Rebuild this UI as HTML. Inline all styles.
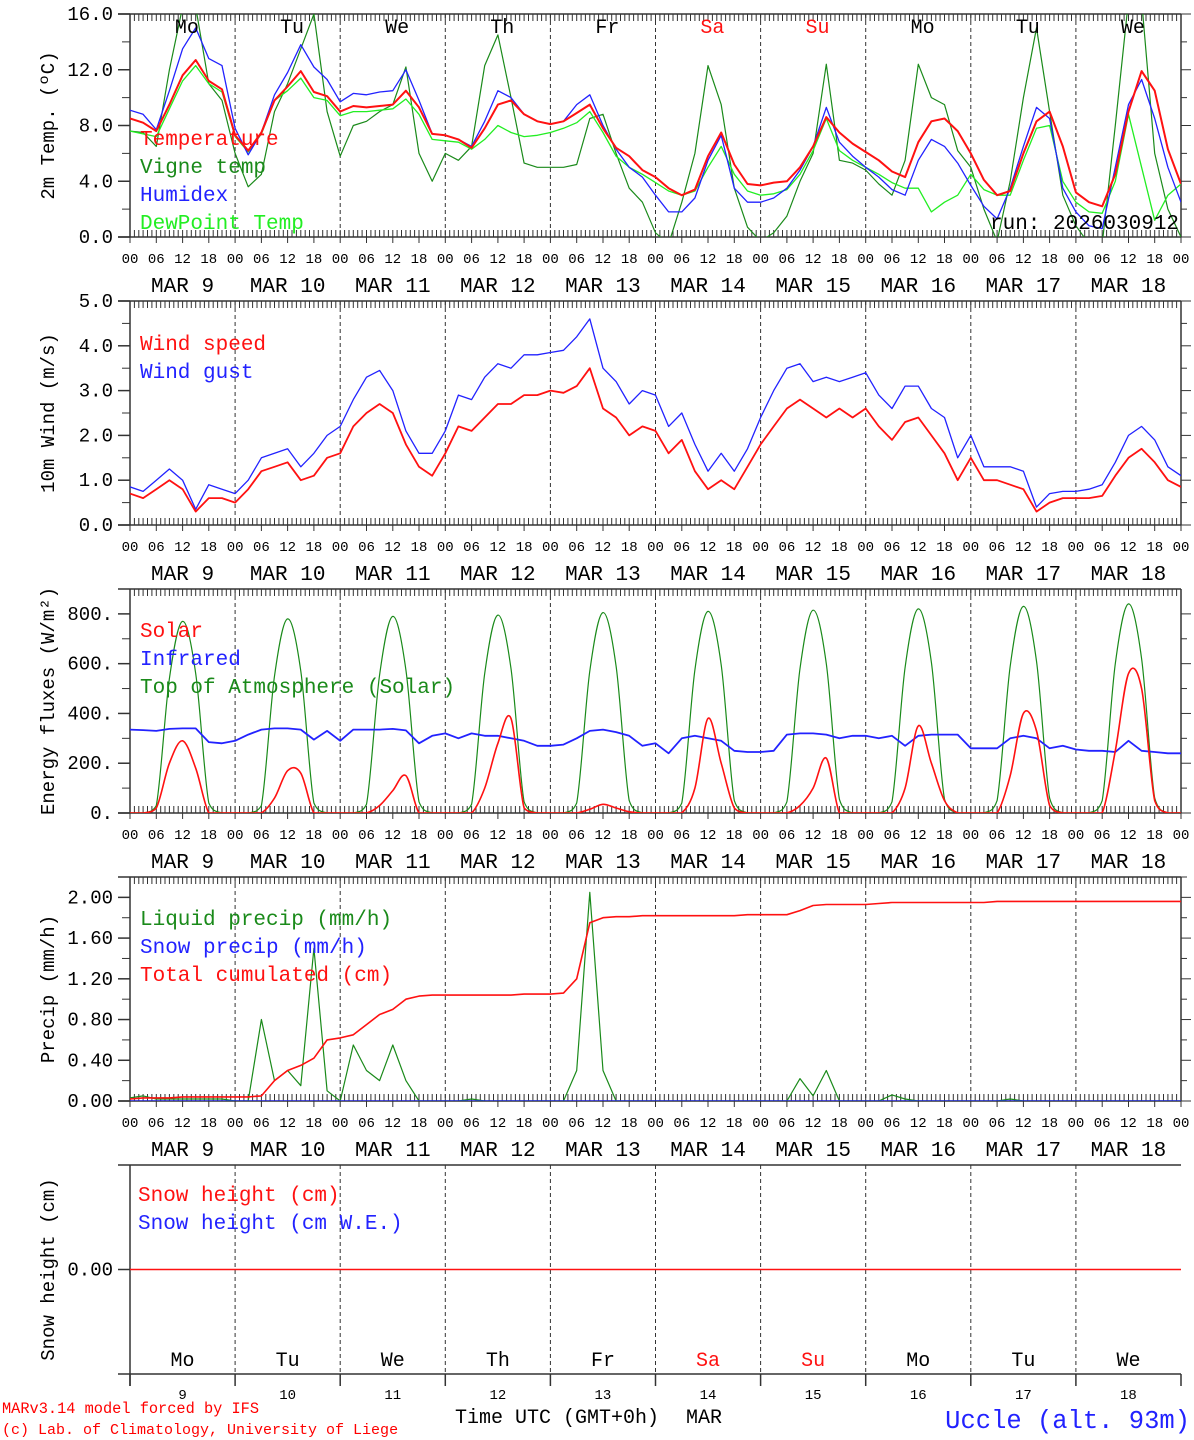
<!DOCTYPE html>
<html><head><meta charset="utf-8"><style>
html,body{margin:0;padding:0;background:#fff;}
svg{display:block;font-family:"Liberation Mono",monospace;}
</style></head><body>
<svg id="chart" width="1194" height="1440" viewBox="0 0 1194 1440" xmlns="http://www.w3.org/2000/svg">
<defs id="defs"></defs>
<g id="frames"></g>
<g id="series"></g>
<g id="labels"></g>
<text x="2" y="1413" font-size="15.3" fill="#f00">MARv3.14 model forced by IFS</text>
<text x="2" y="1434" font-size="15" fill="#f00">(c) Lab. of Climatology, University of Liege</text>
<text x="455" y="1423" font-size="20" fill="#000">Time UTC (GMT+0h)</text>
<text x="686" y="1423" font-size="20" fill="#000">MAR</text>
<text x="1190" y="1428" font-size="25.5" fill="#22f" text-anchor="end">Uccle (alt. 93m)</text>
</svg>
<script>
// ---- data (3-hourly, 00 UTC MAR 9 .. 00 UTC MAR 19) ----
const dayNames = ["Mo","Tu","We","Th","Fr","Sa","Su","Mo","Tu","We"];
const dayDates = ["9","10","11","12","13","14","15","16","17","18"];
const temperature = [8.5,8.2,7.6,9.5,11.6,12.7,11.2,10.6, 7.3,6.2,7.5,9.8,10.8,11.9,10.4,10.1, 9.0,9.4,9.3,9.4,9.5,10.5,9.3,7.4, 7.3,7.0,6.4,7.8,9.5,9.8,8.8,8.3, 8.1,8.3,8.9,9.5,7.8,6.4,5.8,4.8, 4.3,3.5,3.0,3.4,5.8,7.5,5.2,3.8, 3.7,3.9,4.0,5.0,6.5,8.6,7.5,6.7, 6.1,5.5,4.7,4.3,6.8,8.3,8.5,7.6, 6.0,4.1,3.0,3.3,6.0,8.3,9.0,6.5, 3.2,2.5,2.2,4.5,9.0,11.9,10.5,6.3,3.8];
const vigneTemp = [7.6,7.5,6.5,12,16.5,16.5,11,9.8, 6.0,3.6,4.5,9,11,13.5,16,9, 5.8,8,8.3,9,9.5,12.2,6,4, 6.0,5.5,6.5,12.3,14.5,10,5.3,5, 5,5,5.2,8.5,8.8,6,3.5,2.5, 0.3,-0.5,2.5,6,12.3,9.5,3.5,0.7, -0.3,0.3,1.5,4,6.0,12.4,5.5,5.3, 4.8,3.8,3.0,5.5,12.4,10,9.5,6.2, 5.0,2.0,-0.3,4.0,10,15,9,3, 0.8,-0.5,-0.5,8,17,17,6,2,0];
const humidex = [9.1,8.8,7.7,10.5,13.5,15.0,12.8,12.3, 7.8,5.9,7.5,10.2,11.8,13.8,12.2,11.3, 9.7,10.3,10.2,10.4,10.5,12.0,9.8,7.4, 7.3,7.0,6.5,8.3,10.5,10.0,8.8,8.3, 8.1,8.3,9.5,10.2,8.0,6.3,5.0,4.3, 3.0,1.8,1.8,2.8,5.5,7.3,3.5,2.5, 2.5,2.8,3.5,4.8,6.5,9.3,6.8,5.8, 5.0,4.3,3.4,3.0,5.5,7.0,6.5,5.3, 3.7,2.2,1.3,3.5,6.5,9.3,8.5,3.5, 1.8,0.8,0.6,5.0,9.5,11.3,8.5,5.0,2.5];
const dewPoint = [7.6,7.4,7.2,9.2,11.2,12.3,11.0,10.4, 7.2,6.1,7.4,9.8,10.5,11.4,10.0,9.8, 8.7,9.0,9.0,9.1,9.2,9.9,8.8,7.0, 6.9,6.8,6.3,7.0,8.0,7.5,7.2,7.3, 7.5,7.8,8.2,9.0,7.5,5.8,5.0,4.5, 3.9,3.3,3.0,3.3,5.0,6.5,4.5,3.3, 3.0,3.1,3.4,4.5,6.2,8.5,6.2,5.5, 5.0,4.5,3.9,3.5,3.5,1.8,2.5,3.0, 4.5,3.4,3.0,3.0,5.5,7.8,8.0,4.0, 2.5,1.8,1.7,4.0,8.8,5.0,1.2,3.0,3.8];
const windSpeed = [0.7,0.6,0.8,1.0,0.8,0.3,0.6,0.6, 0.5,0.8,1.2,1.3,1.4,1.0,1.1,1.5, 1.6,2.2,2.5,2.7,2.5,1.8,1.3,1.1, 1.6,2.2,2.1,2.4,2.7,2.7,2.9,2.9, 3.0,2.95,3.1,3.5,2.6,2.4,2.0,2.2, 2.1,1.6,1.9,1.2,0.8,1.0,0.8,1.3, 1.8,2.2,2.6,2.8,2.6,2.4,2.6,2.4, 2.6,2.2,1.9,2.3,2.4,2.0,1.6,1.0, 1.5,1.0,1.0,0.9,0.8,0.3,0.5,0.6, 0.6,0.6,0.65,1.1,1.5,1.7,1.4,1.0,0.85];
const windGust = [0.85,0.75,1.0,1.25,1.0,0.35,0.9,0.8, 0.7,1.0,1.5,1.6,1.7,1.3,1.6,2.0, 2.2,2.8,3.3,3.45,3.0,2.1,1.6,1.6, 2.1,2.9,2.8,3.3,3.6,3.5,3.8,3.8, 3.85,3.9,4.2,4.6,3.5,3.2,2.7,3.0, 2.9,2.2,2.5,1.8,1.2,1.6,1.2,1.7, 2.4,3.0,3.5,3.6,3.2,3.3,3.2,3.3, 3.4,2.9,2.6,3.1,3.1,2.6,2.4,1.5, 2.0,1.3,1.3,1.3,1.2,0.4,0.7,0.75, 0.75,0.8,0.9,1.4,2.0,2.2,1.9,1.3,1.1];
const solar = [0,0,20,200,290,180,0,0, 0,0,0,60,170,160,0,0, 0,0,0,30,90,150,0,0, 0,0,0,100,280,380,20,0, 0,0,0,15,35,20,5,0, 0,0,0,100,380,200,20,0, 0,0,0,30,100,220,0,0, 0,0,0,100,350,200,50,0, 0,0,0,150,400,330,30,0, 0,0,0,250,560,500,50,0,0];
const infrared = [335,333,330,338,340,340,285,280, 290,315,335,340,340,335,295,330, 290,335,335,335,338,332,280,310, 320,300,320,310,310,300,290,270, 270,275,300,330,335,325,310,270, 280,240,300,310,300,290,250,245, 245,250,315,320,320,315,300,310, 310,300,310,270,310,315,315,315, 260,260,260,300,310,300,260,270, 255,250,250,245,290,250,245,240,240];
const toaSolar = [0,0,30,540,770,560,40,0, 0,0,30,550,780,570,40,0, 0,0,35,555,790,575,45,0, 0,0,35,560,795,580,45,0, 0,0,40,570,805,590,50,0, 0,0,40,575,810,595,50,0, 0,0,45,580,815,600,55,0, 0,0,45,585,820,605,55,0, 0,0,50,590,830,610,60,0, 0,0,50,600,840,620,60,0,0];
const liquidPrecip = [0.03,0.05,0.02,0.02,0.02,0.02,0.02,0.02, 0,0,0.8,0.2,0.3,0.15,1.5,0.1, 0,0.55,0.3,0.2,0.55,0.2,0,0, 0,0,0.02,0,0,0,0,0, 0,0,0.3,2.05,0.3,0,0,0, 0,0,0,0,0,0,0,0, 0,0,0,0.22,0.05,0.3,0,0, 0,0,0.06,0.02,0,0,0,0, 0,0,0,0.02,0,0,0,0, 0,0,0,0,0,0,0,0,0];
const snowPrecip = new Array(81).fill(0);
const totalCumul = [0.02,0.03,0.03,0.03,0.04,0.04,0.04,0.04, 0.04,0.04,0.05,0.2,0.3,0.35,0.42,0.6, 0.62,0.65,0.75,0.85,0.9,1.0,1.03,1.04, 1.04,1.04,1.04,1.04,1.04,1.04,1.05,1.05, 1.05,1.06,1.2,1.75,1.8,1.81,1.81,1.82, 1.82,1.82,1.82,1.82,1.82,1.82,1.82,1.83, 1.83,1.83,1.83,1.87,1.92,1.93,1.93,1.93, 1.93,1.94,1.95,1.95,1.95,1.95,1.95,1.95, 1.95,1.95,1.96,1.96,1.96,1.96,1.96,1.96, 1.96,1.96,1.96,1.96,1.96,1.96,1.96,1.96,1.96];
const snowHeight = new Array(81).fill(0);
const yTicks1 = ["0.0","4.0","8.0","12.0","16.0"];
const yTicks2 = ["0.0","1.0","2.0","3.0","4.0","5.0"];
const yTicks3 = ["0.","200.","400.","600.","800."];
const yTicks4 = ["0.00","0.40","0.80","1.20","1.60","2.00"];
const hourLabels = ["00","06","12","18"];

// ---- layout ----
const NS = "http://www.w3.org/2000/svg";
const X0 = 130, X1 = 1181, HOURS = 240;
function xs(h){ return X0 + h*(X1-X0)/HOURS; }
function mk(tag, attrs, parent){ const e=document.createElementNS(NS,tag); for(const k in attrs) e.setAttribute(k,attrs[k]); parent.appendChild(e); return e; }
const frames=document.getElementById('frames'), series=document.getElementById('series'), labels=document.getElementById('labels'), defs=document.getElementById('defs');

const panels = [
 {top:14,bot:237,min:0,max:16,ticks:yTicks1,step:4,minor:2,title:"2m Temp. (\u00BAC)",name:"temperature-panel"},
 {top:301,bot:525,min:0,max:5,ticks:yTicks2,step:1,minor:0.5,title:"10m Wind (m/s)",name:"wind-panel"},
 {top:589,bot:813,min:0,max:900,ticks:yTicks3,step:200,minor:100,title:"Energy fluxes (W/m\u00B2)",name:"energy-panel"},
 {top:877,bot:1101,min:0,max:2.2,ticks:yTicks4,step:0.4,minor:0.2,title:"Precip (mm/h)",name:"precip-panel"},
 {top:1165,bot:1374,min:-1,max:1,ticks:["0.00"],step:1,minor:0,title:"Snow height (cm)",name:"snow-panel",snow:true}
];
function ys(p,v){ return p.bot - (v-p.min)*(p.bot-p.top)/(p.max-p.min); }

panels.forEach((p,pi)=>{
  const cp=mk('clipPath',{id:'clip'+pi},defs);
  mk('rect',{x:X0,y:p.top,width:X1-X0,height:p.bot-p.top},cp);
  const g=mk('g',{},frames);
  
  
  mk('line',{x1:118,y1:p.top,x2:X1,y2:p.top,stroke:'#333','stroke-width':1.5},g);
  mk('line',{x1:118,y1:p.bot,x2:X1,y2:p.bot,stroke:'#333','stroke-width':1.5},g);
  mk('line',{x1:X0,y1:p.top,x2:X0,y2:p.bot+(p.snow?12:0),stroke:'#333','stroke-width':1.5},g);
  if(!p.snow) mk('line',{x1:X1,y1:p.top,x2:X1,y2:p.bot,stroke:'#333','stroke-width':1.5},g);
  for(let d=1; d<10; d++){
    mk('line',{x1:xs(d*24),y1:p.top,x2:xs(d*24),y2:p.bot,stroke:'#333','stroke-width':1,'stroke-dasharray':'4,3'},g);
  }
  if(!p.snow){
    let dd='';
    for(let h=0; h<=HOURS; h++){
      const x=xs(h).toFixed(1);
      dd+=`M${x} ${p.top}v7M${x} ${p.bot}v-7`;
      if(h%6===0) dd+=`M${x} ${p.bot}v6`;
    }
    mk('path',{d:dd,stroke:'#333','stroke-width':1,fill:'none'},g);
    for(let d=0; d<=10; d++){
      for(let k=0;k<4;k++){
        const h=d*24+k*6; if(h>HOURS) break;
        const t=mk('text',{x:xs(h),y:p.bot+26,'font-size':14,'text-anchor':'middle',fill:'#000'},labels);
        t.textContent=hourLabels[k];
        
        
      }
      if(d<10){
        const t=mk('text',{x:xs(d*24+12),y:p.bot+55,'font-size':21,'text-anchor':'middle',fill:'#000'},labels);
        t.textContent=(dayDates[d].length===1?"MAR  ":"MAR ")+dayDates[d];
        
        
      }
    }
  } else {
    let dd='';
    for(let d=0; d<=10; d++){ const x=xs(d*24).toFixed(1); dd+=`M${x} ${p.bot}v12`; }
    mk('path',{d:dd,stroke:'#333','stroke-width':1.5,fill:'none'},g);
  }
  p.ticks.forEach((lab,i)=>{
    const v = p.snow?0:p.min+i*p.step;
    const y=ys(p,v);
    mk('line',{x1:118,y1:y,x2:X0,y2:y,stroke:'#333','stroke-width':1.5},g);
    if(!p.snow) mk('line',{x1:X1,y1:y,x2:X1+10,y2:y,stroke:'#333','stroke-width':1},g);
    const t=mk('text',{x:113,y:y+6,'font-size':19,'text-anchor':'end',fill:'#000'},labels);
    t.textContent=lab;
    
    
  });
  if(p.minor){
    for(let v=p.min+p.minor; v<p.max; v+=p.step){
      const y=ys(p,v);
      mk('line',{x1:122,y1:y,x2:X0,y2:y,stroke:'#333','stroke-width':1},g);
      mk('line',{x1:X1,y1:y,x2:X1+6,y2:y,stroke:'#333','stroke-width':1},g);
    }
  }
  const cy=(p.top+p.bot)/2;
  const tt=mk('text',{x:0,y:0,'font-size':19,'text-anchor':'middle',fill:'#000',transform:`translate(54 ${cy}) rotate(-90)`},labels);
  tt.textContent=p.title;
  
  
});

function line(pi, arr, color, width, name, smooth){
  const p=panels[pi];
  const pts=arr.map((v,i)=>[xs(i*3), ys(p,v)]);
  let d='M'+pts[0][0].toFixed(1)+' '+pts[0][1].toFixed(1);
  for(let i=1;i<pts.length;i++){
    if(smooth){
      const p0=pts[Math.max(0,i-2)], p1=pts[i-1], p2=pts[i], p3=pts[Math.min(pts.length-1,i+1)];
      const c1x=p1[0]+(p2[0]-p0[0])/6, c1y=Math.min(p.bot,p1[1]+(p2[1]-p0[1])/6);
      const c2x=p2[0]-(p3[0]-p1[0])/6, c2y=Math.min(p.bot,p2[1]-(p3[1]-p1[1])/6);
      d+=`C${c1x.toFixed(1)} ${c1y.toFixed(1)} ${c2x.toFixed(1)} ${c2y.toFixed(1)} ${p2[0].toFixed(1)} ${p2[1].toFixed(1)}`;
    } else d+='L'+pts[i][0].toFixed(1)+' '+pts[i][1].toFixed(1);
  }
  const e=mk('path',{d:d,stroke:color,'stroke-width':width,fill:'none','stroke-linejoin':'round','clip-path':`url(#clip${pi})`},series);
  
  
}
line(0, vigneTemp, '#1a8a1a', 1.2, 'vigne-temp-line');
line(0, dewPoint, '#22ee22', 1.3, 'dewpoint-line');
line(0, humidex, '#2222ff', 1.3, 'humidex-line');
line(0, temperature, '#ff1111', 2, 'temperature-line');
line(1, windGust, '#2222ff', 1.3, 'wind-gust-line');
line(1, windSpeed, '#ff1111', 1.8, 'wind-speed-line');
line(2, toaSolar, '#1a8a1a', 1.2, 'toa-solar-line', true);
line(2, infrared, '#2222ff', 1.8, 'infrared-line');
line(2, solar, '#ff1111', 1.6, 'solar-line', true);
line(3, liquidPrecip, '#1a8a1a', 1.2, 'liquid-precip-line');
line(3, snowPrecip, '#2222ff', 1.3, 'snow-precip-line');
line(3, totalCumul, '#ff1111', 1.6, 'total-cumulated-line');
line(4, snowHeight, '#ff1111', 1.6, 'snow-height-line');

function legend(x,y,txt,color,name){
  const t=mk('text',{x:x,y:y,'font-size':21,fill:color},labels);
  t.textContent=txt;
  
  
}
legend(140,145,"Temperature","#ff1111","legend-temperature");
legend(140,173,"Vigne temp","#1a8a1a","legend-vigne-temp");
legend(140,201,"Humidex","#2222ff","legend-humidex");
legend(140,229,"DewPoint Temp","#22ee22","legend-dewpoint");
legend(990,229,"run: 2026030912","#000","run-label");
legend(140,350,"Wind speed","#ff1111","legend-wind-speed");
legend(140,378,"Wind gust","#2222ff","legend-wind-gust");
legend(140,637,"Solar","#ff1111","legend-solar");
legend(140,665,"Infrared","#2222ff","legend-infrared");
legend(140,693,"Top of Atmosphere (Solar)","#1a8a1a","legend-toa");
legend(140,925,"Liquid precip (mm/h)","#1a8a1a","legend-liquid-precip");
legend(140,953,"Snow precip (mm/h)","#2222ff","legend-snow-precip");
legend(140,981,"Total cumulated (cm)","#ff1111","legend-total-cumulated");
legend(138,1201,"Snow height (cm)","#ff1111","legend-snow-height");
legend(138,1229,"Snow height (cm W.E.)","#2222ff","legend-snow-we");

dayNames.forEach((n,d)=>{
  const col=(n==="Sa"||n==="Su")?"#ff1111":"#000";
  const a=mk('text',{x:xs(d*24+13),y:33,'font-size':20,'text-anchor':'middle',fill:col},labels);
  a.textContent=n;
  
  
  const b=mk('text',{x:xs(d*24+12),y:1366,'font-size':20,'text-anchor':'middle',fill:col},labels);
  b.textContent=n;
  
  
  const c=mk('text',{x:xs(d*24+12),y:1399,'font-size':14,'text-anchor':'middle',fill:'#000'},labels);
  c.textContent=dayDates[d];
  
  
});
</script>
</body></html>
